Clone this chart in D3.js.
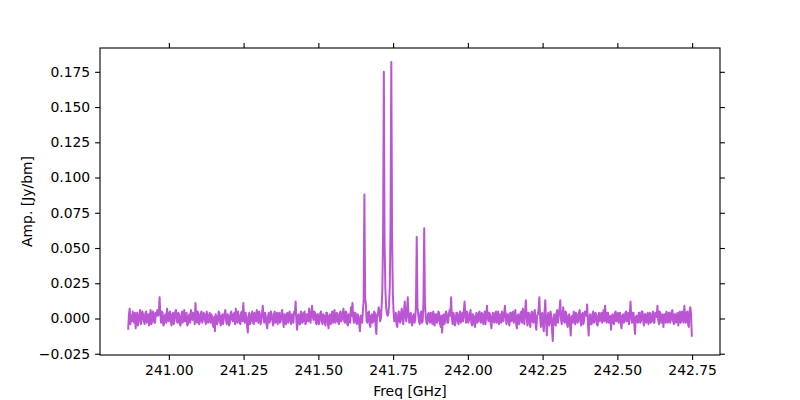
<!DOCTYPE html>
<html>
<head>
<meta charset="utf-8">
<script src="https://cdn.jsdelivr.net/npm/d3@7"></script>
<style>
  html, body { margin: 0; padding: 0; background: #ffffff; }
  svg { display: block; }
  text { font-family: "DejaVu Sans", sans-serif; }
</style>
</head>
<body>
<svg id="chart" width="800" height="400"></svg>
<script>
// ---- data ----
const freqStart = 240.864;   // GHz, first channel
const freqStep = 0.0025;     // GHz, channel width
const amplitude = [
  -0.008, 0.003, 0.007, -0.004, 0.002, -0.002, 0.005, 0.001, -0.003, 0.004, -0.007, 0.000, 0.004, -0.005, -0.002, 0.003, 0.006, -0.004, -0.001, 0.005,
  0.003, -0.002, -0.004, 0.004, 0.005, -0.003, 0.001, 0.003, -0.005, 0.002, 0.006, -0.004, -0.002, 0.005, 0.004, -0.003, -0.003, 0.004, 0.002, 0.006,
  0.002, 0.004, 0.015, 0.003, -0.003, 0.005, 0.004, -0.005, -0.004, 0.002, 0.003, -0.003, 0.007, 0.001, -0.002, 0.004, 0.005, -0.002, -0.005, 0.003,
  0.004, -0.004, 0.000, 0.005, 0.006, -0.002, -0.003, 0.004, 0.003, -0.004, -0.005, 0.002, 0.005, -0.003, 0.002, 0.006, -0.002, 0.003, 0.004, -0.005,
  -0.004, 0.002, 0.003, -0.003, 0.006, 0.002, -0.001, 0.004, 0.002, -0.004, 0.011, 0.001, -0.003, 0.005, 0.003, -0.004, -0.002, 0.004, 0.005, -0.003,
  -0.001, 0.004, 0.003, -0.002, -0.004, 0.005, 0.002, -0.003, 0.001, 0.004, -0.003, 0.003, 0.002, -0.004, -0.006, 0.001, -0.009, 0.003, 0.001, -0.004,
  -0.002, 0.005, 0.004, -0.003, -0.005, 0.002, 0.003, -0.004, 0.000, 0.004, 0.006, -0.002, -0.004, 0.003, 0.002, -0.005, -0.003, 0.004, 0.005, -0.001,
  -0.002, 0.003, 0.004, -0.004, 0.007, 0.001, -0.003, 0.005, 0.002, -0.003, -0.004, 0.004, 0.005, -0.002, 0.011, 0.002, -0.003, 0.004, 0.002, -0.005,
  -0.010, 0.001, 0.004, -0.004, -0.002, 0.003, 0.005, -0.003, -0.004, 0.004, 0.003, -0.002, 0.006, 0.001, -0.003, 0.005, 0.004, -0.004, -0.002, 0.003,
  0.009, 0.002, -0.003, 0.004, 0.002, -0.004, -0.007, 0.001, 0.004, -0.003, -0.001, 0.005, 0.003, -0.002, -0.005, 0.003, 0.005, -0.003, 0.001, 0.004,
  -0.004, 0.002, 0.004, -0.003, -0.002, 0.004, 0.006, -0.001, -0.006, 0.003, 0.002, -0.004, 0.003, 0.004, -0.003, 0.002, 0.005, -0.002, -0.004, 0.003,
  0.002, -0.003, 0.005, 0.003, 0.012, -0.002, -0.008, 0.002, 0.003, -0.004, -0.004, 0.005, 0.004, -0.003, -0.002, 0.004, 0.005, -0.004, -0.003, 0.003,
  0.003, -0.002, 0.007, 0.002, -0.003, 0.004, 0.009, 0.001, -0.001, 0.005, 0.004, -0.003, -0.004, 0.003, 0.003, -0.004, -0.002, 0.004, 0.005, -0.002,
  -0.004, 0.003, 0.002, -0.003, -0.005, 0.004, 0.004, -0.002, -0.007, 0.002, 0.003, -0.004, 0.001, 0.005, -0.003, 0.002, 0.006, -0.003, -0.002, 0.004,
  0.003, -0.003, -0.004, 0.004, 0.005, -0.002, -0.001, 0.004, 0.007, -0.002, -0.003, 0.005, 0.004, -0.004, -0.005, 0.003, 0.002, -0.003, 0.008, 0.002,
  0.011, 0.001, -0.003, 0.004, 0.004, -0.003, -0.004, 0.003, 0.001, -0.004, -0.009, 0.002, 0.002, -0.003, 0.006, 0.012, 0.088, 0.015, 0.010, -0.002,
  -0.003, 0.004, 0.005, -0.004, -0.006, 0.002, 0.003, -0.003, -0.002, 0.005, 0.004, -0.005, -0.011, 0.003, 0.002, 0.008, 0.006, -0.002, 0.000, 0.008,
  0.020, 0.060, 0.175, 0.055, 0.022, 0.008, 0.004, 0.002, 0.003, 0.010, 0.024, 0.070, 0.182, 0.060, 0.018, 0.005, -0.002, 0.003, 0.004, -0.004,
  -0.006, 0.002, 0.005, -0.002, -0.003, 0.004, 0.007, -0.001, -0.004, 0.005, 0.012, 0.001, -0.002, 0.006, 0.015, 0.002, -0.003, 0.003, 0.004, -0.003,
  -0.005, 0.002, 0.003, -0.003, -0.001, 0.010, 0.058, 0.008, 0.003, -0.002, -0.004, 0.004, 0.005, -0.003, -0.002, 0.012, 0.064, 0.010, 0.002, -0.003,
  -0.004, 0.003, 0.004, -0.002, -0.003, 0.004, 0.002, -0.004, 0.005, 0.001, -0.005, 0.003, 0.003, -0.003, -0.002, 0.005, 0.004, -0.003, -0.006, 0.002,
  -0.010, 0.002, 0.003, -0.004, -0.002, 0.005, 0.004, -0.003, -0.003, 0.003, 0.006, 0.002, 0.015, 0.001, -0.004, 0.004, 0.002, -0.005, -0.003, 0.004,
  0.004, -0.002, -0.004, 0.003, 0.005, -0.003, 0.001, 0.004, -0.002, 0.005, 0.012, 0.002, -0.003, 0.005, 0.004, -0.003, -0.001, 0.003, 0.006, -0.003,
  -0.005, 0.003, 0.002, -0.004, -0.006, 0.002, 0.004, -0.003, -0.002, 0.004, 0.005, -0.002, -0.003, 0.004, 0.003, -0.004, 0.001, 0.005, -0.004, 0.002,
  0.009, 0.001, -0.002, 0.004, 0.003, -0.004, -0.007, 0.002, 0.004, -0.002, -0.003, 0.004, 0.005, -0.003, 0.000, 0.005, -0.004, 0.002, 0.003, -0.003,
  0.005, 0.001, -0.002, 0.004, 0.009, 0.002, -0.004, 0.003, 0.003, -0.003, -0.005, 0.004, 0.004, -0.002, 0.002, 0.005, -0.003, 0.002, 0.006, -0.004,
  -0.007, 0.002, 0.003, -0.004, -0.002, 0.004, 0.005, -0.003, 0.007, 0.001, -0.004, 0.005, 0.013, 0.002, -0.005, 0.004, 0.004, -0.004, -0.006, 0.003,
  0.005, -0.002, -0.003, 0.004, 0.006, -0.004, -0.008, 0.002, 0.003, 0.006, 0.015, 0.001, -0.006, 0.003, 0.004, -0.005, -0.009, 0.005, 0.013, -0.002,
  -0.012, 0.001, 0.004, -0.005, -0.003, 0.005, 0.002, -0.008, -0.016, 0.000, 0.003, -0.004, -0.005, 0.004, 0.006, -0.003, 0.002, 0.006, 0.013, -0.001,
  -0.004, 0.003, 0.008, -0.002, -0.003, 0.005, 0.004, -0.004, -0.006, 0.002, 0.003, -0.005, -0.012, 0.001, 0.002, -0.003, 0.005, 0.002, -0.004, 0.004,
  0.003, -0.003, -0.002, 0.004, 0.006, -0.002, -0.005, 0.003, 0.004, -0.004, -0.001, 0.005, 0.003, 0.002, 0.010, -0.003, -0.012, 0.001, 0.003, -0.004,
  -0.004, 0.003, 0.005, -0.003, -0.002, 0.004, 0.003, -0.004, -0.005, 0.002, 0.004, -0.002, 0.001, 0.004, -0.003, 0.002, 0.006, -0.002, 0.009, 0.001,
  -0.003, 0.004, 0.004, -0.003, -0.002, 0.002, -0.008, 0.001, 0.003, -0.003, -0.004, 0.004, 0.005, -0.002, 0.000, 0.004, -0.003, 0.003, 0.004, -0.004,
  -0.007, 0.002, 0.003, -0.003, -0.002, 0.004, 0.005, -0.002, 0.002, 0.004, -0.004, 0.003, 0.012, 0.001, -0.003, 0.004, 0.004, -0.004, -0.011, 0.001,
  0.002, -0.002, -0.003, 0.004, 0.004, -0.003, -0.002, 0.005, 0.005, -0.002, -0.005, 0.003, 0.003, -0.003, 0.001, 0.004, -0.004, 0.002, 0.004, -0.003,
  -0.002, 0.003, 0.005, -0.003, -0.003, 0.004, 0.003, 0.001, 0.009, -0.001, -0.004, 0.005, 0.004, -0.003, -0.002, 0.003, -0.006, 0.002, 0.003, -0.003,
  0.005, 0.000, -0.003, 0.004, 0.004, -0.003, -0.001, 0.005, 0.006, -0.002, -0.004, 0.003, 0.003, -0.003, 0.002, 0.004, -0.005, 0.002, 0.005, -0.003,
  -0.002, 0.005, 0.004, -0.003, 0.009, 0.002, -0.003, 0.004, 0.005, -0.004, -0.006, 0.005, 0.008, 0.003, -0.013
];
const xTicks = [241.00, 241.25, 241.50, 241.75, 242.00, 242.25, 242.50, 242.75];
const yTicks = [-0.025, 0.000, 0.025, 0.050, 0.075, 0.100, 0.125, 0.150, 0.175];
const xLabel = "Freq [GHz]";
const yLabel = "Amp. [Jy/bm]";

// ---- layout ----
const svg = d3.select("#chart");
const W = 800, H = 400;
const L = 100, R = 720, T = 48, B = 355;
const lineColor = "#ba55d3";
const fontSize = 13.9;
const tickLen = 4.9;

svg.append("rect").attr("width", W).attr("height", H).attr("fill", "#ffffff");

const points = amplitude.map((a, i) => ({ f: freqStart + i * freqStep, a: a }));
const fExt = d3.extent(points, d => d.f);
const aExt = d3.extent(points, d => d.a);
const fPad = (fExt[1] - fExt[0]) * 0.05;
const aPad = (aExt[1] - aExt[0]) * 0.05;

const x = d3.scaleLinear().domain([fExt[0] - fPad, fExt[1] + fPad]).range([L, R]);
const y = d3.scaleLinear().domain([aExt[0] - aPad, aExt[1] + aPad]).range([B, T]);

svg.append("clipPath").attr("id", "clip")
  .append("rect").attr("x", L).attr("y", T).attr("width", R - L).attr("height", B - T);

const line = d3.line().x(d => x(d.f)).y(d => y(d.a));
svg.append("path")
  .datum(points)
  .attr("clip-path", "url(#clip)")
  .attr("fill", "none")
  .attr("stroke", lineColor)
  .attr("stroke-width", 2)
  .attr("stroke-linejoin", "round")
  .attr("d", line);

function styleAxis(g, showText) {
  g.select(".domain").remove();
  g.selectAll(".tick line").attr("stroke", "#000").attr("stroke-width", 1.1);
  g.selectAll(".tick text")
    .attr("font-family", "DejaVu Sans, sans-serif")
    .attr("font-size", fontSize)
    .attr("fill", "#000");
  if (!showText) g.selectAll(".tick text").remove();
}

const fmtX = d3.format(".2f");
const fmtY = d3.format(".3f");

svg.append("g").attr("transform", `translate(0,${B})`)
  .call(d3.axisBottom(x).tickValues(xTicks).tickFormat(fmtX).tickSize(tickLen).tickPadding(4.9))
  .call(g => styleAxis(g, true));
svg.append("g").attr("transform", `translate(0,${T})`)
  .call(d3.axisTop(x).tickValues(xTicks).tickSize(tickLen))
  .call(g => styleAxis(g, false));
svg.append("g").attr("transform", `translate(${L},0)`)
  .call(d3.axisLeft(y).tickValues(yTicks).tickFormat(d => fmtY(d).replace("-", "\u2212")).tickSize(tickLen).tickPadding(4.9))
  .call(g => styleAxis(g, true));
svg.append("g").attr("transform", `translate(${R},0)`)
  .call(d3.axisRight(y).tickValues(yTicks).tickSize(tickLen))
  .call(g => styleAxis(g, false));

svg.append("rect")
  .attr("x", L).attr("y", T).attr("width", R - L).attr("height", B - T)
  .attr("fill", "none").attr("stroke", "#000").attr("stroke-width", 1.1);

svg.append("text")
  .attr("x", (L + R) / 2).attr("y", 396)
  .attr("text-anchor", "middle")
  .attr("font-size", fontSize).attr("fill", "#000")
  .text(xLabel);
svg.append("text")
  .attr("transform", `translate(32,${(T + B) / 2}) rotate(-90)`)
  .attr("text-anchor", "middle")
  .attr("font-size", fontSize).attr("fill", "#000")
  .text(yLabel);
</script>
</body>
</html>
